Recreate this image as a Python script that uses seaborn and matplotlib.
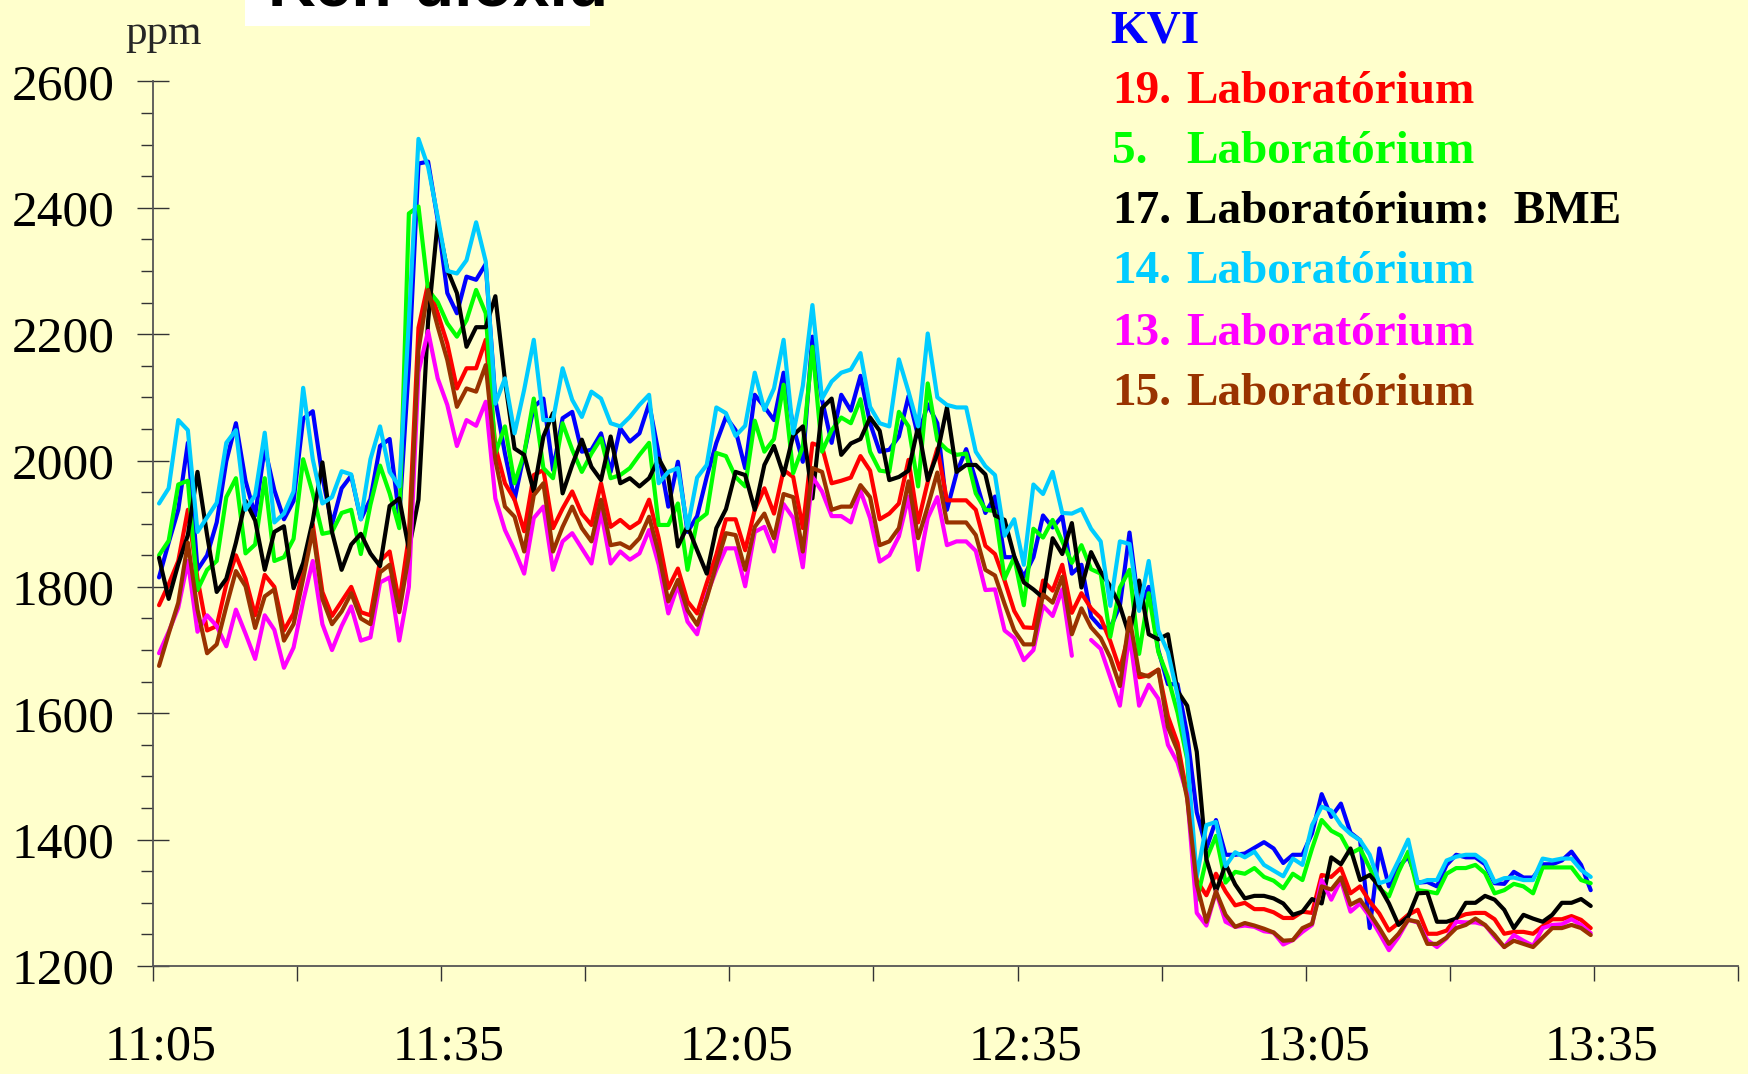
import numpy as np
import pandas as pd
import matplotlib
matplotlib.use("Agg")
import matplotlib.pyplot as plt
import matplotlib.transforms as mtransforms
from matplotlib.patches import Rectangle
import seaborn as sns

# ---------------- data (ppm, one sample per minute) ----------------
first_sample_min = 0.65          # minutes after 11:05 of the first sample
n_samples = 150

tick_minutes = [0, 30, 60, 90, 120, 150]
tick_labels = ["11:05", "11:35", "12:05", "12:35", "13:05", "13:35"]
minor_tick_minutes = [15, 45, 75, 105, 135, 165]

series_names = ["KVI", "19. Laboratórium", "5.   Laboratórium",
                "17. Laboratórium:  BME", "14. Laboratórium",
                "13. Laboratórium", "15. Laboratórium"]

kvi = [1815, 1870, 1922, 2028, 1827, 1850, 1902, 1999, 2059, 1968, 1913, 2020, 1953, 1907, 1936, 2066, 2078, 1974, 1899, 1956,
       1976, 1907, 1939, 2023, 2034, 1910, 2150, 2470,
       2473, 2381, 2265, 2233, 2291, 2286, 2311, 2096, 2011, 1938, 2011, 2085, 2098, 1985, 2067, 2077, 2014, 2017, 2043, 1982,
       2051, 2030, 2043, 2090, 2011, 1927, 1998, 1887, 1912,
       1974, 2028, 2069, 2048, 1988, 2104, 2085, 2064, 2139, 2054, 1998, 2196, 2096, 2028, 2104, 2079, 2134, 2059, 2014, 2017,
       2038, 2102, 2038, 2089, 2059, 1922, 1980, 2018, 1969, 1917,
       1943, 1847, 1847, 1816, 1847, 1913, 1894, 1912, 1821, 1835, 1753, 1736, 1735, 1770, 1886, 1765, 1800, 1700, 1646, 1646,
       1567, 1443, 1386, 1431, 1376, 1376, 1378, 1387, 1396, 1386, 1363,
       1376, 1376, 1410, 1472, 1436, 1457, 1411, 1399, 1260, 1386, 1326, 1357, 1373, 1332, 1333, 1326, 1360, 1376, 1372, 1372,
       1361, 1331, 1330, 1349, 1340, 1340, 1361, 1361, 1367, 1381, 1360, 1320]

lab19 = [1771, 1804, 1841, 1922, 1813, 1731, 1738, 1804, 1850, 1813, 1755, 1819, 1800, 1731, 1758, 1830, 1899, 1792, 1754, 1777,
         1800, 1760, 1755, 1841, 1856, 1775, 1880, 2210,
         2280, 2233, 2185, 2114, 2146, 2146, 2191, 2022, 1964, 1938, 1888, 1977, 1985, 1893, 1924, 1951, 1916, 1898, 1964, 1895,
         1906, 1893, 1903, 1938, 1877, 1798, 1829, 1777, 1758,
         1806, 1851, 1907, 1907, 1858, 1922, 1956, 1916, 1985, 1974, 1893, 2027, 2022, 1964, 1968, 1973, 2007, 1984, 1907, 1916,
         1932, 2001, 1902, 1966, 2019, 1937, 1937, 1937, 1922, 1865,
         1852, 1810, 1762, 1736, 1735, 1810, 1794, 1835, 1759, 1790, 1766, 1751, 1714, 1669, 1731, 1657, 1660, 1669, 1595, 1553,
         1471, 1335, 1312, 1346, 1318, 1296, 1300, 1290, 1290, 1285, 1276,
         1276, 1286, 1284, 1344, 1341, 1355, 1315, 1326, 1302, 1283, 1256, 1268, 1281, 1289, 1251, 1251, 1256, 1276, 1282, 1284,
         1284, 1274, 1251, 1254, 1254, 1251, 1263, 1274, 1274, 1279, 1273, 1260]

lab5 = [1850, 1873, 1962, 1968, 1795, 1827, 1841, 1942, 1972, 1853, 1867, 1972, 1841, 1847, 1876, 2002, 1948, 1884, 1887, 1917,
        1922, 1852, 1930, 1992, 1948, 1893, 2391, 2402,
        2270, 2251, 2217, 2196, 2222, 2270, 2233, 2011, 2054, 1964, 2011, 2098, 1988, 1972, 2059, 2017, 1982, 2011, 2035, 1972,
        1977, 1988, 2009, 2028, 1898, 1898, 1932, 1827, 1904,
        1916, 2012, 2007, 1974, 1959, 2063, 2014, 2034, 2120, 1980, 2022, 2180, 2014, 2048, 2068, 2059, 2097, 2014, 1984, 1982,
        2077, 2054, 1959, 2122, 2032, 2017, 2009, 2011, 1948, 1922,
        1920, 1813, 1847, 1771, 1892, 1878, 1906, 1872, 1838, 1866, 1828, 1821, 1721, 1799, 1827, 1694, 1790, 1697, 1657, 1601,
        1527, 1304, 1369, 1406, 1332, 1349, 1346, 1355, 1341, 1335, 1323,
        1346, 1336, 1386, 1431, 1414, 1406, 1378, 1386, 1355, 1323, 1310, 1349, 1381, 1320, 1318, 1315, 1346, 1355, 1355, 1360,
        1347, 1315, 1320, 1330, 1326, 1315, 1356, 1356, 1356, 1356, 1336, 1331]

lab17 = [1846, 1781, 1836, 1882, 1982, 1882, 1792, 1813, 1870, 1936, 1905, 1827, 1887, 1896, 1798, 1838, 1905, 1997, 1887, 1827,
         1867, 1884, 1853, 1833, 1928, 1940, 1860, 1938,
         2220, 2378, 2302, 2265, 2180, 2211, 2211, 2260, 2127, 2019, 2009, 1951, 2038, 2075, 1948, 1993, 2033, 1990, 1969, 2038,
         1964, 1972, 1959, 1972, 2003, 1975, 1864, 1896, 1858,
         1821, 1893, 1923, 1982, 1977, 1922, 1993, 2023, 1977, 2040, 2054, 1940, 2083, 2098, 2009, 2027, 2034, 2068, 2047, 1969,
         1974, 1984, 2054, 1969, 2011, 2084, 1982, 1993, 1993, 1978,
         1913, 1906, 1849, 1807, 1796, 1783, 1877, 1852, 1901, 1799, 1855, 1824, 1801, 1770, 1722, 1810, 1725, 1717, 1725, 1635,
         1612, 1539, 1369, 1318, 1361, 1329, 1307, 1311, 1311, 1307, 1299,
         1281, 1286, 1306, 1299, 1372, 1361, 1386, 1336, 1344, 1326, 1299, 1265, 1278, 1315, 1316, 1270, 1270, 1275, 1300, 1300,
         1311, 1305, 1289, 1260, 1281, 1275, 1270, 1281, 1300, 1300, 1306, 1295]

lab14 = [1932, 1956, 2064, 2048, 1887, 1910, 1933, 2028, 2048, 1922, 1945, 2044, 1902, 1916, 1951, 2115, 2002, 1932, 1942, 1983,
         1978, 1907, 2002, 2054, 1982, 1959, 2220, 2509,
         2465, 2386, 2300, 2296, 2317, 2377, 2315, 2090, 2130, 2043, 2112, 2191, 2064, 2064, 2146, 2096, 2069, 2109, 2098, 2059,
         2054, 2069, 2088, 2104, 1964, 1982, 1988, 1893, 1973,
         1993, 2084, 2075, 2039, 2055, 2139, 2080, 2114, 2191, 2043, 2118, 2246, 2098, 2125, 2139, 2144, 2170, 2085, 2059, 2054,
         2160, 2109, 2054, 2201, 2100, 2088, 2084, 2084, 2014, 1991,
         1977, 1881, 1907, 1835, 1962, 1947, 1982, 1917, 1916, 1923, 1892, 1872, 1770, 1872, 1868, 1762, 1841, 1731, 1697, 1629,
         1533, 1341, 1423, 1428, 1358, 1380, 1372, 1381, 1360, 1351, 1342,
         1370, 1360, 1423, 1452, 1446, 1423, 1409, 1399, 1376, 1331, 1336, 1367, 1400, 1331, 1336, 1336, 1367, 1373, 1376, 1376,
         1365, 1333, 1339, 1340, 1336, 1336, 1370, 1367, 1370, 1370, 1352, 1341]

lab13 = [1695, 1729, 1767, 1841, 1729, 1755, 1738, 1706, 1764, 1726, 1686, 1755, 1732, 1672, 1704, 1778, 1841, 1741, 1700, 1738,
         1769, 1715, 1720, 1807, 1815, 1715, 1800, 2140,
         2205, 2130, 2088, 2023, 2064, 2055, 2093, 1940, 1890, 1858, 1821, 1909, 1927, 1827, 1872, 1885, 1861, 1837, 1919, 1837,
         1856, 1843, 1853, 1890, 1835, 1758, 1803, 1745, 1725,
         1787, 1827, 1861, 1861, 1801, 1887, 1895, 1856, 1931, 1909, 1831, 1974, 1951, 1912, 1912, 1902, 1952, 1909, 1840, 1850,
         1880, 1943, 1827, 1909, 1942, 1866, 1872, 1872, 1857, 1795,
         1796, 1731, 1719, 1684, 1700, 1770, 1754, 1796, 1691, np.nan, 1716, 1702, 1657, 1612, 1725, 1612, 1645, 1623, 1550, 1522,
         1471, 1284, 1264, 1318, 1270, 1262, 1264, 1262, 1255, 1253, 1234,
         1241, 1254, 1265, 1336, 1305, 1336, 1286, 1299, 1278, 1252, 1225, 1246, 1273, 1269, 1241, 1230, 1244, 1270, 1269, 1269,
         1265, 1246, 1230, 1249, 1240, 1232, 1260, 1265, 1266, 1274, 1265, 1252]

lab15 = [1675, 1726, 1775, 1870, 1764, 1695, 1709, 1769, 1825, 1801, 1735, 1785, 1796, 1715, 1741, 1813, 1890, 1781, 1741, 1761,
         1790, 1750, 1741, 1823, 1835, 1760, 1850, 2175,
         2270, 2212, 2159, 2085, 2114, 2109, 2151, 2001, 1927, 1911, 1856, 1945, 1964, 1856, 1895, 1927, 1893, 1872, 1938, 1866,
         1869, 1861, 1877, 1911, 1853, 1777, 1811, 1763, 1740,
         1782, 1835, 1885, 1882, 1827, 1895, 1916, 1877, 1947, 1942, 1856, 1988, 1982, 1922, 1927, 1927, 1961, 1942, 1866, 1872,
         1893, 1967, 1877, 1927, 1981, 1902, 1902, 1902, 1882, 1827,
         1818, 1773, 1731, 1709, 1709, 1788, 1775, 1816, 1725, 1766, 1736, 1719, 1688, 1643, 1751, 1663, 1658, 1669, 1578, 1541,
         1465, 1329, 1270, 1318, 1281, 1262, 1268, 1264, 1259, 1253, 1240,
         1241, 1260, 1267, 1326, 1321, 1340, 1297, 1305, 1283, 1260, 1235, 1251, 1273, 1270, 1235, 1235, 1245, 1260, 1265, 1275,
         1265, 1249, 1230, 1240, 1235, 1230, 1245, 1260, 1260, 1265, 1260, 1249]

series_values = [kvi, lab19, lab5, lab17, lab14, lab13, lab15]
series_colors = ["#0000FF", "#FF0000", "#00FF00", "#000000", "#00CCFF", "#FF00FF", "#993300"]

# ---------------- build long table ----------------
minutes = first_sample_min + np.arange(n_samples)
frames = []
for name, vals in zip(series_names, series_values):
    v = np.asarray(vals, dtype=float)
    seg = np.cumsum(np.isnan(v))          # new segment after every gap
    frames.append(pd.DataFrame({"t": minutes, "ppm": v, "series": name, "seg": seg}))
df = pd.concat(frames, ignore_index=True).dropna(subset=["ppm"])

# ---------------- figure ----------------
BG = "#FFFFCC"
sns.set_style("ticks")
plt.rcParams["font.family"] = ["Liberation Serif", "DejaVu Serif"]

W, H = 1749, 1074
fig = plt.figure(figsize=(W / 100, H / 100), dpi=100, facecolor=BG)
x0, x1 = 152.8, 1738.2
ytop, ybot = 81.4, 966.0
ax = fig.add_axes([x0 / W, 1 - ybot / H, (x1 - x0) / W, (ybot - ytop) / H])
ax.set_facecolor(BG)

palette = dict(zip(series_names, series_colors))
sns.lineplot(data=df, x="t", y="ppm", hue="series", units="seg", estimator=None,
             hue_order=series_names, palette=palette, linewidth=3.0,
             sort=False, legend=False, ax=ax)

ax.set_xlim(0, 165)
ax.set_ylim(1200, 2600)
ax.set_xlabel("")
ax.set_ylabel("")

for s in ["top", "right"]:
    ax.spines[s].set_visible(False)
for s in ["left", "bottom"]:
    ax.spines[s].set_color("#555555")
    ax.spines[s].set_linewidth(1.3)

ax.set_xticks(tick_minutes)
ax.set_xticklabels(tick_labels)
ax.set_xticks(minor_tick_minutes, minor=True)
ax.set_yticks(list(range(1200, 2601, 200)))
ax.set_yticks([v for v in range(1250, 2600, 50) if v % 200 != 0], minor=True)

ax.tick_params(axis="x", which="both", direction="out", length=11, width=1.0,
               color="#333333", pad=31, labelsize=36, labelcolor="black")
ax.tick_params(axis="y", which="major", direction="inout", length=23, width=1.0,
               color="#333333", pad=16, labelsize=37, labelcolor="black")
ax.tick_params(axis="y", which="minor", direction="out", length=9, width=1.0,
               color="#333333")
ax.grid(False)

# nudge x tick labels slightly right, as in the reference
shift = mtransforms.ScaledTranslation(5.5 / 72, 0, fig.dpi_scale_trans)
for lab in ax.get_xticklabels():
    lab.set_transform(lab.get_transform() + shift)

# unit label
fig.text(125 / W, 1 - 44 / H, "ppm", fontsize=31, ha="left", va="baseline",
         family=["Liberation Serif", "DejaVu Serif"])

# partially visible title with white box
fig.patches.append(Rectangle((245 / W, 1 - 26 / H), (590 - 245) / W, 26 / H,
                             transform=fig.transFigure, facecolor="white",
                             edgecolor="none", zorder=5))
fig.text(268 / W, 1 - 6 / H, "Kén-dioxid", fontsize=47.5, fontweight="bold",
         ha="left", va="baseline", family=["Liberation Sans", "DejaVu Sans"],
         color="black", zorder=6)

# coloured legend text
baselines = [42.4, 102.6, 162.8, 223.0, 283.3, 344.7, 404.9]
num_x, word_x = 1112, 1186
for name, col, b in zip(series_names, series_colors, baselines):
    y = 1 - b / H
    if name == "KVI":
        fig.text(1110 / W, y, name, color=col, fontsize=34, fontweight="bold",
                 ha="left", va="baseline")
    else:
        num, rest = name.split(".", 1)
        fig.text(num_x / W, y, num + ".", color=col, fontsize=34, fontweight="bold",
                 ha="left", va="baseline")
        fig.text(word_x / W, y, rest.strip(), color=col, fontsize=34, fontweight="bold",
                 ha="left", va="baseline")

fig.savefig("out.png", dpi=100, facecolor=BG)
